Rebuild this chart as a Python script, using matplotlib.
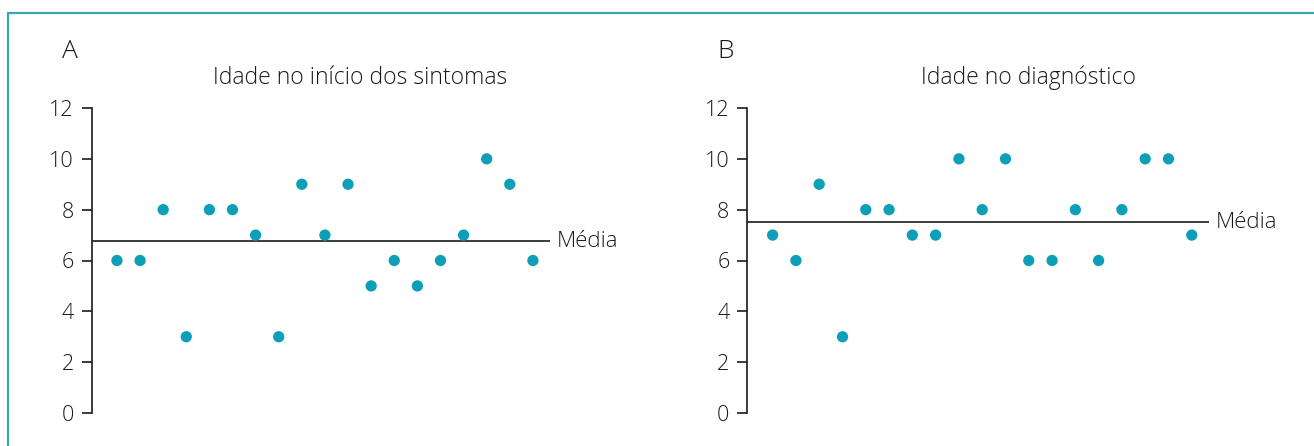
import numpy as np
import matplotlib.pyplot as plt
from matplotlib.patches import Rectangle

# -------------------------
# Data
# -------------------------
idade_inicio = [6, 6, 8, 3, 8, 8, 7, 3, 9, 7, 9, 5, 6, 5, 6, 7, 10, 9, 6]
idade_diagnostico = [7, 6, 9, 3, 8, 8, 7, 7, 10, 8, 10, 6, 6, 8, 6, 8, 10, 10, 7]
medias = [6.75, 7.5]  # mean lines as drawn in the figure
titulos = ["Idade no início dos sintomas", "Idade no diagnóstico"]
letras = ["A", "B"]
y_ticks = [0, 2, 4, 6, 8, 10, 12]

dot_color = "#0e9fb8"
frame_color = "#3aa6b9"
ink = "#1a1a1a"

plt.rcParams["font.family"] = ["Open Sans", "DejaVu Sans"]
plt.rcParams["font.weight"] = "light"

fig = plt.figure(figsize=(13.14, 4.46), dpi=100)

# teal frame (only top and left edges are inside the picture)
fig.patches.append(
    Rectangle((8 / 1314, -0.1), 1.2, 1 - 13 / 446 + 0.1, transform=fig.transFigure,
              fill=False, edgecolor=frame_color, linewidth=1.6)
)

# (values, axes left px, axes right px, title x in axes fraction)
panels = [
    (idade_inicio, 92, 550, 0.585),
    (idade_diagnostico, 747.5, 1209, 0.608),
]

for (vals, x0, x1, tx), media, titulo, letra in zip(panels, medias, titulos, letras):
    ax = fig.add_axes([x0 / 1314, 1 - 413 / 446, (x1 - x0) / 1314, 305 / 446])
    xs = np.arange(1, len(vals) + 1)
    ax.scatter(xs, vals, s=66, color=dot_color, edgecolors="none", zorder=3)
    ax.axhline(media, color=ink, linewidth=1.2)
    ax.text(1.015, media, "Média", transform=ax.get_yaxis_transform(),
            ha="left", va="center", fontsize=16, color=ink)
    ax.set_xlim(-0.08, 19.74)
    ax.set_ylim(0, 12)
    ax.set_yticks(y_ticks)
    ax.set_xticks([])
    for s in ["top", "right", "bottom"]:
        ax.spines[s].set_visible(False)
    ax.spines["left"].set_color(ink)
    ax.spines["left"].set_linewidth(1.2)
    ax.tick_params(axis="y", length=7, width=1.2, color=ink, labelsize=15.5,
                   labelcolor=ink, pad=6)
    ax.text(tx, 1.10, titulo, transform=ax.transAxes, fontsize=16.5,
            color=ink, ha="center", va="center")
    ax.text(-0.065, 1.184, letra, transform=ax.transAxes, fontsize=19,
            color=ink, ha="left", va="center")

fig.savefig("out.png", dpi=100)
